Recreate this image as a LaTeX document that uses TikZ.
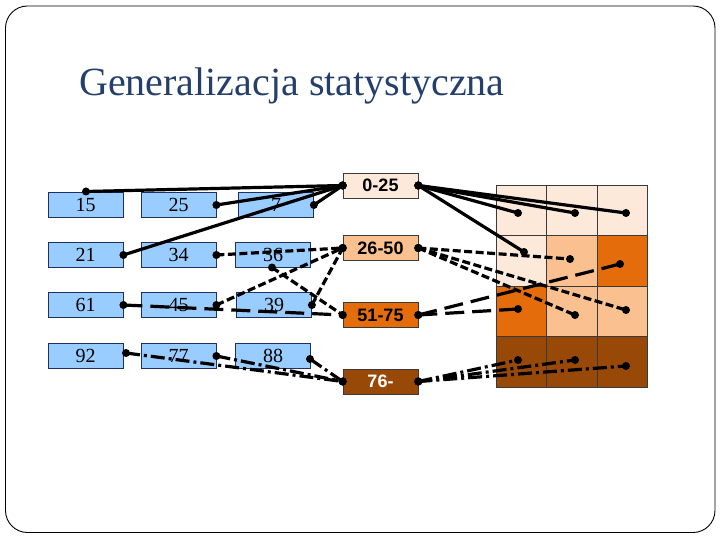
\documentclass[tikz,border=0pt]{standalone}
\usepackage{fontspec}
\setmainfont{Liberation Serif}
\newfontfamily\arialf{Liberation Sans}
\usetikzlibrary{positioning}
\definecolor{titleblue}{HTML}{243F6B}
\definecolor{valblue}{HTML}{99CCFF}
\definecolor{navy}{HTML}{1F2F5F}
\definecolor{cA}{HTML}{FDE9D9}
\definecolor{cB}{HTML}{FAC090}
\definecolor{cC}{HTML}{E46C0A}
\definecolor{cD}{HTML}{984807}
\definecolor{gridc}{HTML}{3A3A3A}
\newcommand\lnk[3]{\draw[link,#1] (#2) -- (#3); \fill (#2) circle (4); \fill (#3) circle (4);}
\begin{document}
\begin{tikzpicture}[x=1pt,y=-1pt,
  valbox/.style={draw=navy,line width=0.8pt,fill=valblue,minimum width=75pt,minimum height=25pt,inner sep=0pt,font=\fontsize{20}{20}\selectfont},
  catbox/.style={draw=gridc,line width=0.6pt,minimum width=75pt,minimum height=25pt,inner sep=0pt,font=\arialf\bfseries\fontsize{18}{18}\selectfont},
  cell/.style={draw=gridc,line width=0.6pt,minimum width=50.3pt,minimum height=50.5pt,inner sep=0pt},
  link/.style={line width=3.2pt},
  dA/.style={},
  dB/.style={dash pattern=on 8pt off 3.5pt},
  dC/.style={dash pattern=on 19pt off 8pt},
  dD/.style={dash pattern=on 14pt off 4pt on 3pt off 4pt}]
\useasboundingbox (0,0) rectangle (720,540);
\draw[line width=0.9pt,rounded corners=22pt] (5.5,6) rectangle (715,532.5);
\node[anchor=base west,text=titleblue,font=\fontsize{40}{40}\selectfont,inner sep=0pt] (title) at (79,96) {Generalizacja statystyczna};
% value boxes
\node[valbox] (v15) at (85.5,205) {15};
\node[valbox] (v25) at (178.5,205) {25};
\node[valbox] (v7)  at (276,205) {7};
\node[valbox] (v21) at (85.5,255) {21};
\node[valbox] (v34) at (178.5,255) {34};
\node[valbox] (v36) at (273,255) {36};
\node[valbox] (v61) at (85.5,305) {61};
\node[valbox] (v45) at (178.5,305) {45};
\node[valbox] (v39) at (274,305) {39};
\node[valbox] (v92) at (85.5,356) {92};
\node[valbox] (v77) at (178.5,356) {77};
\node[valbox] (v88) at (273,356) {88};
% category boxes
\node[catbox,fill=cA] (c1) at (380.5,185.5) {0-25};
\node[catbox,fill=cB] (c2) at (380.5,248) {26-50};
\node[catbox,fill=cC] (c3) at (380.5,315) {51-75};
\node[catbox,fill=cD,text=white] (c4) at (380.5,381.5) {76-};
% grid
\node[cell,fill=cA] (g11n) at (521.3,210.3) {};
\node[cell,fill=cA] (g12n) at (571.7,210.3) {};
\node[cell,fill=cA] (g13n) at (622,210.3) {};
\node[cell,fill=cA] (g21n) at (521.3,260.8) {};
\node[cell,fill=cB] (g22n) at (571.7,260.8) {};
\node[cell,fill=cC] (g23n) at (622,260.8) {};
\node[cell,fill=cC] (g31n) at (521.3,311.3) {};
\node[cell,fill=cB] (g32n) at (571.7,311.3) {};
\node[cell,fill=cB] (g33n) at (622,311.3) {};
\node[cell,fill=cD] (g41n) at (521.3,361.8) {};
\node[cell,fill=cD] (g42n) at (571.7,361.8) {};
\node[cell,fill=cD] (g43n) at (622,361.8) {};
\coordinate (g11) at (518,213);
\coordinate (g12) at (575,213);
\coordinate (g13) at (626,213);
\coordinate (g21) at (524,252);
\coordinate (g22) at (570,259);
\coordinate (g23) at (620,264);
\coordinate (g31) at (518,309);
\coordinate (g32) at (575,315);
\coordinate (g33) at (626,310);
\coordinate (g41) at (518,360);
\coordinate (g42) at (575,360);
\coordinate (g43) at (626,366);
\coordinate (p15) at (86,191.5);
\coordinate (p36) at (272,267.5);
\coordinate (p92) at (126,353);
\coordinate (p88) at (310,359);
% left links
\lnk{dA}{p15}{c1.west}
\lnk{dA}{v25.east}{c1.west}
\lnk{dA}{v7.east}{c1.west}
\lnk{dA}{v21.east}{c1.west}
\lnk{dB}{v34.east}{c2.west}
\lnk{dB}{v45.east}{c2.west}
\lnk{dB}{v39.east}{c2.west}
\lnk{dB}{p36}{c3.west}
\lnk{dC}{v61.east}{c3.west}
\lnk{dD}{p92}{c4.west}
\lnk{dD}{v77.east}{c4.west}
\lnk{dD}{p88}{c4.west}
% right links
\lnk{dA}{c1.east}{g11}
\lnk{dA}{c1.east}{g12}
\lnk{dA}{c1.east}{g13}
\lnk{dA}{c1.east}{g21}
\lnk{dB}{c2.east}{g22}
\lnk{dB}{c2.east}{g32}
\lnk{dB}{c2.east}{g33}
\lnk{dC}{c3.east}{g31}
\lnk{dC}{c3.east}{g23}
\lnk{dD}{c4.east}{g41}
\lnk{dD}{c4.east}{g42}
\lnk{dD}{c4.east}{g43}
\end{tikzpicture}
\end{document}
